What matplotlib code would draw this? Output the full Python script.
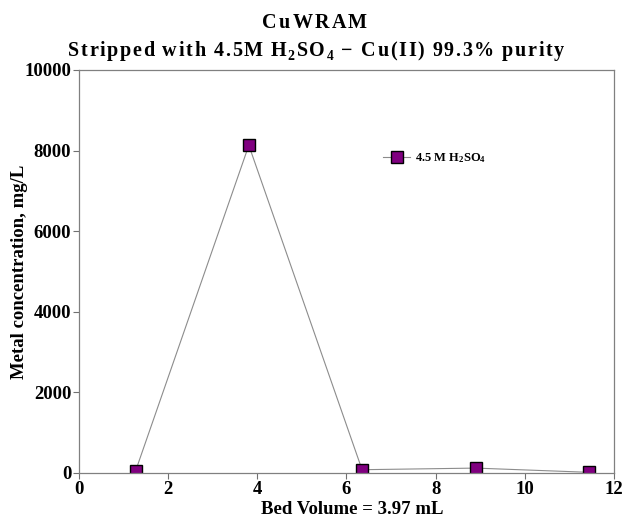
import matplotlib
matplotlib.use("Agg")
import matplotlib.pyplot as plt

bed_volume = [1.27, 3.81, 6.35, 8.90, 11.45]
cu_conc = [50, 8130, 80, 120, 15]
x_ticks = [0, 2, 4, 6, 8, 10, 12]
y_ticks = [0, 2000, 4000, 6000, 8000, 10000]

title_line1 = [("CuWRAM", "txt")]
title_line2 = [("Stripped with 4.5M H", "txt"), ("2", "sub"), ("SO", "txt"),
               ("4", "sub"), (" \u2212 Cu(II) 99.3% purity", "txt")]

plt.rcParams["font.family"] = ["Liberation Serif", "DejaVu Serif"]
plt.rcParams["font.weight"] = "bold"
plt.rcParams["mathtext.default"] = "regular"

W_PX, H_PX, DPI = 622, 518, 100
fig = plt.figure(figsize=(W_PX / DPI, H_PX / DPI), dpi=DPI)
ax = fig.add_axes([0.127, 0.087, 0.860, 0.778])

ax.plot(bed_volume, cu_conc, color="#8c8c8c", lw=0.8, marker="s",
        markersize=8, markerfacecolor="#800080", markeredgecolor="black",
        markeredgewidth=1.0, label=r"4.5 M H$_2$SO$_4$")

ax.set_xlim(0, 12)
ax.set_ylim(0, 10000)
ax.set_xticks(x_ticks)
ax.set_yticks(y_ticks)
ax.tick_params(direction="out", length=4.5, width=0.8, color="#707070",
               labelsize=13.5, pad=1)
for lab in ax.get_xticklabels() + ax.get_yticklabels():
    lab.set_fontweight("bold")
for sp in ax.spines.values():
    sp.set_color("#808080")
    sp.set_linewidth(0.9)

ax.set_xlabel("Bed Volume = 3.97 mL", fontsize=13.5, fontweight="bold")
ax.xaxis.set_label_coords(0.51, -0.102, transform=ax.transAxes)
ax.xaxis.label.set_va("baseline")
ax.set_ylabel("Metal concentration, mg/L", fontsize=13.5, fontweight="bold", labelpad=-2.5)

ax.legend(loc="center left", bbox_to_anchor=(0.568, 0.782), frameon=False,
          prop={"size": 9, "weight": "bold"}, handlelength=2.2,
          handletextpad=0.4, borderpad=0, borderaxespad=0)


def tracked_line(pieces, center_px, baseline_px, width_px, size):
    """Draw a letter-spaced text line, character by character."""
    renderer = fig.canvas.get_renderer()
    glyphs = []
    for text, kind in pieces:
        fs = size * 0.68 if kind == "sub" else size
        dy = -3.5 if kind == "sub" else 0.0
        for ch in text:
            if ch == " ":
                w = size * DPI / 72 * 0.25
            else:
                probe = fig.text(0, 0, ch, fontsize=fs, fontweight="bold")
                w = probe.get_window_extent(renderer).width
                probe.remove()
            glyphs.append((ch, fs, dy, w))
    track = (width_px - sum(g[3] for g in glyphs)) / (len(glyphs) - 1)
    x = center_px - width_px / 2
    for ch, fs, dy, w in glyphs:
        if ch != " ":
            fig.text(x / W_PX, (H_PX - baseline_px + dy) / H_PX, ch,
                     fontsize=fs, fontweight="bold", ha="left", va="baseline")
        x += w + track


tracked_line(title_line1, 314.5, 28.5, 105, 14.5)
tracked_line(title_line2, 316, 56, 496, 14.5)

fig.savefig("out.png", dpi=DPI)
